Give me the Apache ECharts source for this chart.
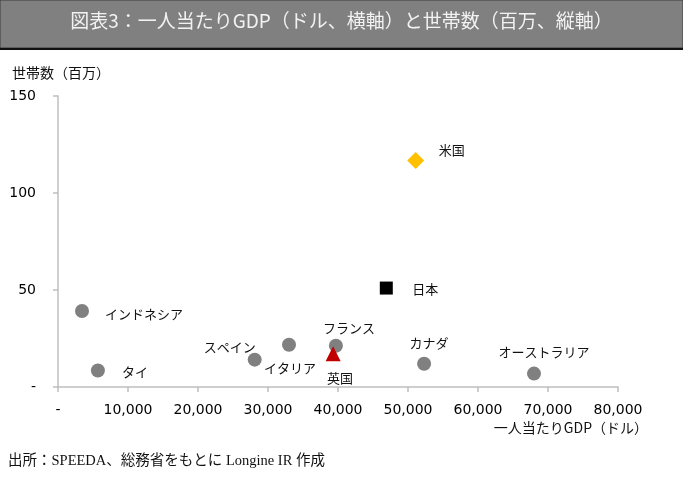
<!DOCTYPE html>
<html>
<head>
<meta charset="utf-8">
<script src="https://cdn.jsdelivr.net/npm/echarts@6/dist/echarts.min.js"></script>
<style>
html,body{margin:0;padding:0;background:#fff;}
#chart{width:683px;height:483px;}
</style>
</head>
<body>
<div id="chart"></div>
<script>
// 国名と一人当たりGDP（ドル）、世帯数（百万）
var countries = ['インドネシア', 'タイ', 'スペイン', 'イタリア', 'フランス', 'カナダ', 'オーストラリア'];
var gdp = [3430, 5700, 28100, 33000, 39700, 52300, 68000];
var households = [39.2, 8.5, 14.1, 21.8, 21.3, 12.0, 6.9];

var japanGdp = [46900];
var japanHh = [51.0];
var usGdp = [51100];
var usHh = [116.7];
var ukGdp = [39300];
var ukHh = [17.1];

var xTicks = [0, 10000, 20000, 30000, 40000, 50000, 60000, 70000, 80000];
var yTicks = [0, 50, 100, 150];

// ラベルの位置（点からのずれ）
var labelOffset = {
    'インドネシア': [62, 3],
    'タイ': [37, 2],
    'スペイン': [-25, -13],
    'イタリア': [1, 23],
    'フランス': [13, -18],
    'カナダ': [5, -21],
    'オーストラリア': [10, -22],
    '日本': [39, 1],
    '米国': [36, -11],
    '英国': [7, 24]
};

var jp = '"Noto Sans CJK JP", "Noto Sans", sans-serif';
var num = '"DejaVu Sans", Verdana, sans-serif';

function makeData(names, xs, ys) {
    return names.map(function (n, i) {
        return {
            name: n,
            value: [xs[i], ys[i]],
            label: { offset: labelOffset[n] }
        };
    });
}

var labelStyle = {
    show: true,
    position: 'inside',
    formatter: '{b}',
    fontFamily: jp,
    fontSize: 13,
    color: '#111'
};

var myChart = echarts.init(document.getElementById('chart'));
var option = {
    animation: false,
    grid: { left: 58, right: 65, top: 96, bottom: 96 },
    graphic: [
        {
            type: 'rect',
            shape: { x: 0, y: 0, width: 683, height: 48 },
            style: { fill: '#808080', stroke: '#3a3a3a', lineWidth: 1 }
        },
        {
            type: 'rect',
            shape: { x: 0, y: 48, width: 683, height: 2 },
            style: { fill: '#111' }
        },
        {
            type: 'text',
            left: 'center',
            top: 11,
            style: {
                text: '図表3：一人当たりGDP（ドル、横軸）と世帯数（百万、縦軸）',
                fill: '#f2f2f2',
                font: '19px ' + jp
            }
        },
        {
            type: 'text',
            left: 12,
            top: 66,
            style: { text: '世帯数（百万）', fill: '#111', font: '14px ' + jp }
        },
        {
            type: 'text',
            right: 35,
            top: 421,
            style: { text: '一人当たりGDP（ドル）', fill: '#111', font: '14px ' + jp }
        },
        {
            type: 'text',
            left: 8,
            top: 454,
            style: {
                text: '出所：SPEEDA、総務省をもとに Longine IR 作成',
                fill: '#111',
                font: '14.5px "Liberation Serif", "Noto Sans CJK JP", serif'
            }
        }
    ],
    xAxis: {
        type: 'value',
        min: xTicks[0],
        max: xTicks[xTicks.length - 1],
        interval: xTicks[1] - xTicks[0],
        splitLine: { show: false },
        axisLine: { show: true, onZero: false, lineStyle: { color: '#bfbfbf', width: 1.5 } },
        axisTick: { show: true, length: 5, lineStyle: { color: '#bfbfbf', width: 1.5 } },
        axisLabel: {
            margin: 16,
            fontFamily: num,
            fontSize: 14,
            color: '#000',
            formatter: function (v) { return v === 0 ? '-' : v.toLocaleString('en-US'); }
        }
    },
    yAxis: {
        type: 'value',
        min: yTicks[0],
        max: yTicks[yTicks.length - 1],
        interval: yTicks[1] - yTicks[0],
        splitLine: { show: false },
        axisLine: { show: true, onZero: false, lineStyle: { color: '#bfbfbf', width: 1.5 } },
        axisTick: { show: true, length: 5, lineStyle: { color: '#bfbfbf', width: 1.5 } },
        axisLabel: {
            margin: 22,
            fontFamily: num,
            fontSize: 14,
            color: '#000',
            formatter: function (v) { return v === 0 ? '-' : String(v); }
        }
    },
    series: [
        {
            name: 'その他',
            type: 'scatter',
            symbol: 'circle',
            symbolSize: 14,
            itemStyle: { color: '#808080', opacity: 1 },
            label: labelStyle,
            data: makeData(countries, gdp, households)
        },
        {
            name: '日本',
            type: 'scatter',
            symbol: 'rect',
            symbolSize: 13,
            itemStyle: { color: '#000', opacity: 1 },
            label: labelStyle,
            data: makeData(['日本'], japanGdp, japanHh)
        },
        {
            name: '米国',
            type: 'scatter',
            symbol: 'diamond',
            symbolSize: 17,
            itemStyle: { color: '#FFC000', opacity: 1 },
            label: labelStyle,
            data: makeData(['米国'], usGdp, usHh)
        },
        {
            name: '英国',
            type: 'scatter',
            symbol: 'triangle',
            symbolSize: 15,
            itemStyle: { color: '#C00000', opacity: 1 },
            label: labelStyle,
            data: makeData(['英国'], ukGdp, ukHh)
        }
    ]
};
myChart.setOption(option);
</script>
</body>
</html>
